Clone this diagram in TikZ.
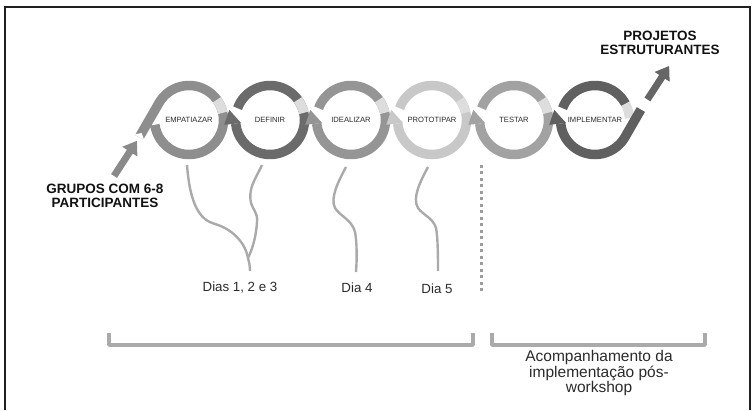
\documentclass[tikz,border=0pt]{standalone}
\usepackage{fontspec}
\setmainfont{Liberation Sans}
\usetikzlibrary{arrows.meta,calc}
\definecolor{cornice}{HTML}{202020}
\definecolor{anelloA}{HTML}{8E8E8E}
\definecolor{anelloB}{HTML}{6B6B6B}
\definecolor{anelloC}{HTML}{959595}
\definecolor{anelloD}{HTML}{C8C8C8}
\definecolor{anelloE}{HTML}{A2A2A2}
\definecolor{anelloF}{HTML}{606060}
\definecolor{chiaro}{HTML}{DDDDDD}
\definecolor{grigiofilo}{HTML}{AAAAAA}
\definecolor{grigiopunti}{HTML}{9C9C9C}
\definecolor{frecciaA}{HTML}{8A8A8A}
\definecolor{frecciaB}{HTML}{666666}
\definecolor{testo}{HTML}{2A2A2A}
\definecolor{nero}{HTML}{111111}
\begin{document}
\begin{tikzpicture}[
    x=1pt, y=1pt,
    every node/.style={align=center, inner sep=0pt},
    % Stile per gli anelli delle fasi
    anello/.style={line width=9.5pt, line cap=butt},
    % Stile per le etichette dentro gli anelli
    fase/.style={font=\fontsize{7.6}{9}\selectfont, text=testo},
    % Stile per le etichette dei giorni
    giorno/.style={font=\fontsize{13.3}{16}\selectfont, text=testo},
    % Stile per le etichette in grassetto
    titolo/.style={font=\fontsize{13.5}{14}\selectfont\bfseries, text=nero},
    % Stile per i fili che scendono dagli anelli
    filo/.style={draw=grigiofilo, line width=2.4pt},
    % Stile per le frecce grandi
    freccia/.style={line width=7pt, -{Triangle[width=17pt,length=13pt]}},
    % Stile per le parentesi in basso
    parentesi/.style={draw=grigiofilo, line width=3.5pt, line join=round}
]
\useasboundingbox (0,0) rectangle (755,410);

% --- CORNICE ---
\draw[draw=cornice, line width=1.3pt] (5,0) -- (5,403) -- (750,403) -- (750,0);

% --- ETICHETTE DELLE FASI ---
\foreach \nome/\testo/\cx in {empatiazar/EMPATIAZAR/189, definir/DEFINIR/270,
    idealizar/IDEALIZAR/351, prototipar/PROTOTIPAR/432,
    testar/TESTAR/514, implementar/IMPLEMENTAR/595}
    \node[fase] (\nome) at (\cx,290) {\testo};

% --- ANELLO 1 (con la coda) ---
\coordinate (coda) at ($(empatiazar)+(150:34.5)+(240:40)$);
\draw[anello, draw=anelloA] (coda) -- ($(empatiazar)+(150:34.5)$)
    arc[start angle=150, end angle=-172, radius=34.5pt];
\draw[anello, draw=chiaro] ($(empatiazar)+(36:34.5)$) arc[start angle=36, end angle=12, radius=34.5pt];
\fill[white] ($(coda)+(150:6)$) -- ($(coda)+(60:5)$) -- ($(coda)+(330:6)$) -- cycle;

% --- ANELLI 2-5 ---
\foreach \nome/\col in {definir/anelloB, idealizar/anelloC, prototipar/anelloD, testar/anelloE} {
    \draw[anello, draw=\col] ($(\nome)+(160:34.5)$) arc[start angle=160, end angle=-174, radius=34.5pt];
    \draw[anello, draw=chiaro] ($(\nome)+(36:34.5)$) arc[start angle=36, end angle=12, radius=34.5pt];
    \fill[\col] ($(\nome)+(186:29)$) -- ($(\nome)+(186:46)$) -- ($(\nome)+(166:42)$) -- cycle;
}

% --- ANELLO 6 (con l'uscita) ---
\draw[anello, draw=anelloF] ($(implementar)+(160:34.5)$) arc[start angle=160, end angle=28, radius=34.5pt];
\draw[anello, draw=chiaro] ($(implementar)+(28:34.5)$) arc[start angle=28, end angle=3, radius=34.5pt];
\draw[anello, draw=anelloF] ($(implementar)+(186:34.5)$) arc[start angle=186, end angle=330, radius=34.5pt]
    -- ++(60:32) coordinate (uscita);
\fill[anelloF] ($(implementar)+(186:29)$) -- ($(implementar)+(186:46)$) -- ($(implementar)+(166:42)$) -- cycle;

% --- ENTRATA E USCITA ---
\node[titolo] (grupos) at (105,214) {GRUPOS COM 6-8\\PARTICIPANTES};
\node[titolo] (projetos) at (660,367) {PROJETOS\\ESTRUTURANTES};
\draw[freccia, draw=frecciaA] ($(coda)+(237:46)$) -- ($(coda)+(237:4)$);
\draw[freccia, draw=frecciaB] ($(uscita)+(57:12)$) -- ($(uscita)+(57:52)$);

% --- GIORNI ---
\node[giorno] (dias123) at (240,122) {Dias 1, 2 e 3};
\node[giorno] (dia4) at (357,122) {Dia 4};
\node[giorno] (dia5) at (437,121) {Dia 5};
\coordinate (giunto) at ($(dias123)+(8,30)$);
% fili dagli anelli ai giorni
\draw[filo] ($(empatiazar)+(-2,-45)$) .. controls (190,205) and (200,190) .. (215,186)
    .. controls (232,181) and (245,168) .. (giunto);
\draw[filo] ($(definir)+(-8,-45)$) .. controls (255,230) and (248,222) .. (251,207)
    .. controls (253,200) and (258,197) .. (257,188)
    .. controls (256,172) and (252,160) .. (giunto);
\draw[filo] (giunto) .. controls (249,148) and (250,144) .. ($(dias123)+(10,17)$);
\draw[filo] ($(idealizar)+(-5,-47)$) .. controls (338,228) and (330,212) .. (335,202)
    .. controls (340,194) and (352,190) .. (355,178)
    .. controls (357,168) and (357,150) .. ($(dia4)+(-1,16)$);
\draw[filo] ($(prototipar)+(-4,-47)$) .. controls (420,228) and (412,212) .. (418,202)
    .. controls (423,195) and (433,192) .. (436,182)
    .. controls (438,172) and (438,150) .. ($(dia5)+(1,18)$);

% --- SEPARATORE E PARENTESI ---
\draw[draw=grigiopunti, line width=3pt, dash pattern=on 3pt off 3.5pt] (481,245) -- (481,118);
\draw[parentesi] (109,77) -- (109,65) -- (473,65) -- (473,77);
\draw[parentesi] (492,77) -- (492,65) -- (705,65) -- (705,77);
\node[giorno, font=\fontsize{15.5}{15.5}\selectfont] (acomp) at (599,37)
    {Acompanhamento da\\implementação pós-\\workshop};

\end{tikzpicture}
\end{document}
